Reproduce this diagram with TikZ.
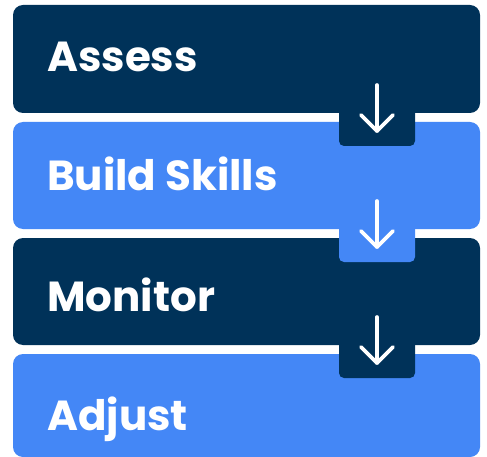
\documentclass[tikz,border=0pt]{standalone}
\usepackage{fontspec}
\setmainfont{Poppins}[UprightFont=* Bold]
\definecolor{navy}{HTML}{003259}
\definecolor{skyblue}{HTML}{4487F6}
\begin{document}
\begin{tikzpicture}[x=1pt,y=-1pt,
  stepbox/.style={rounded corners=10pt},
  tabbox/.style={rounded corners=5pt},
  steplabel/.style={anchor=base west,text=white,inner sep=0pt,font=\fontsize{42}{42}\selectfont},
  flowarrow/.style={draw=white,line width=3.6pt,line cap=round,line join=round}]
\useasboundingbox (0,0) rectangle (487,457);
\fill[white] (0,0) rectangle (487,457);
% boxes and tabs
\fill[navy,stepbox] (13,5) rectangle (480,113);
\fill[skyblue,stepbox] (13,122) rectangle (480,229);
\fill[navy,tabbox] (339,100) rectangle (415,146);
\fill[navy,stepbox] (13,238) rectangle (480,345);
\fill[skyblue,tabbox] (339,215) rectangle (415,262);
\fill[skyblue,stepbox] (13,354) rectangle (480,457);
\fill[navy,tabbox] (339,330) rectangle (415,378);
% labels
\node[steplabel] (assess) at (47,72) {Assess};
\node[steplabel] (build) at (47,191) {Build Skills};
\node[steplabel] (monitor) at (47,311) {Monitor};
\node[steplabel] (adjust) at (47,430) {Adjust};
% arrows
\coordinate (a1s) at (377,85); \coordinate (a1e) at (377,131);
\coordinate (a2s) at (377,201); \coordinate (a2e) at (377,247);
\coordinate (a3s) at (377,317); \coordinate (a3e) at (377,363);
\foreach \s/\e in {a1s/a1e,a2s/a2e,a3s/a3e}{
  \draw[flowarrow] (\s) -- (\e);
  \draw[flowarrow] (\e) ++(-16,-16) -- (\e) -- ++(16,-16);
}
\end{tikzpicture}
\end{document}
